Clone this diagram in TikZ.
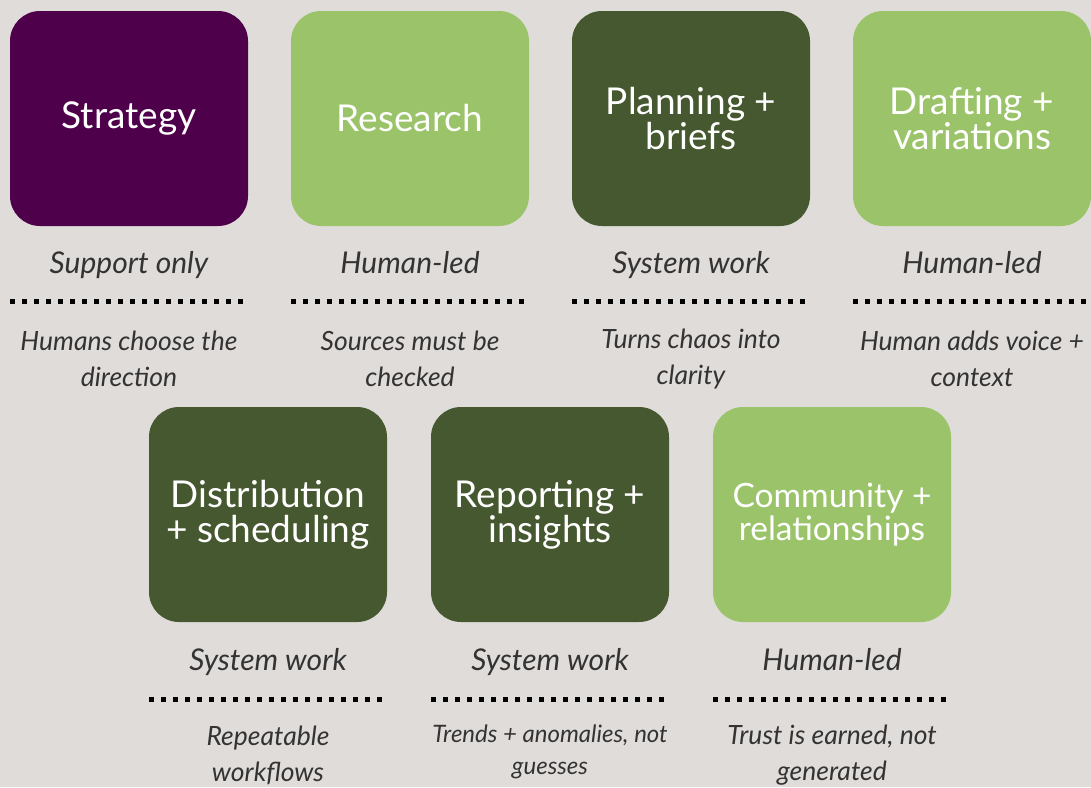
\documentclass[tikz,border=0pt]{standalone}
\usepackage{fontspec}
\setmainfont{Lato}
\usetikzlibrary{positioning}

\definecolor{bgstone}{HTML}{E0DCDA}
\definecolor{plum}{HTML}{4E004A}
\definecolor{leafgreen}{HTML}{9BC46A}
\definecolor{mossgreen}{HTML}{46582F}
\definecolor{inkgray}{HTML}{333333}

\tikzset{
  card/.style={rounded corners=30pt, minimum width=238pt, minimum height=215pt,
    text=white, align=center, font=\fontsize{37}{35}\selectfont, inner sep=0pt},
  role/.style={text=inkgray, font=\itshape\fontsize{30}{30}\selectfont, inner sep=0pt, anchor=base},
  note/.style={text=inkgray, font=\itshape\fontsize{26.5}{36}\selectfont, align=center, inner sep=0pt},
  rule/.style={line width=5pt, dash pattern=on 5pt off 7pt}
}

\begin{document}
\begin{tikzpicture}[x=1pt,y=-1pt]
\fill[bgstone] (0,0) rectangle (1091,787);
\useasboundingbox (0,0) rectangle (1091,787);
%\draw[step=50,gray,very thin] (0,0) grid (1091,787);

% top row
\node[card,fill=plum] (strategy) at (129,118.5) {Strategy};
\node[card,fill=leafgreen] (research) at (410,118.5) {Research};
\node[card,fill=mossgreen] (planning) at (691,118.5) {Planning +\\briefs};
\node[card,fill=leafgreen] (drafting) at (972,118.5) {Drafting +\\variations};

\node[role] (strategyrole) at (129,273) {Support only};
\node[role] (researchrole) at (410,273) {Human-led};
\node[role] (planningrole) at (691,273) {System work};
\node[role] (draftingrole) at (972,273) {Human-led};

\draw[rule] (10,301) -- (245,301);
\draw[rule] (291,301) -- (526,301);
\draw[rule] (572,301) -- (807,301);
\draw[rule] (853,301) -- (1088,301);

\node[note] (strategynote) at (129,359) {Humans choose the\\direction};
\node[note] (researchnote) at (410,359) {Sources must be\\checked};
\node[note] (planningnote) at (691,359) {Turns chaos into\\clarity};
\node[note] (draftingnote) at (972,359) {Human adds voice +\\context};

% bottom row
\node[card,fill=mossgreen] (distribution) at (268,514.5) {Distribution\\+ scheduling};
\node[card,fill=mossgreen] (reporting) at (550,514.5) {Reporting +\\insights};
\node[card,fill=leafgreen,font=\fontsize{33.5}{33}\selectfont] (community) at (832,514.5) {Community +\\relationships};

\node[role] (distributionrole) at (268,670) {System work};
\node[role] (reportingrole) at (550,670) {System work};
\node[role] (communityrole) at (832,670) {Human-led};

\draw[rule] (149,699) -- (384,699);
\draw[rule] (431,699) -- (666,699);
\draw[rule] (713,699) -- (948,699);

\node[note] (distributionnote) at (268,755.5) {Repeatable\\workflows};
\node[note,font=\itshape\fontsize{24}{32}\selectfont] (reportingnote) at (550,752) {Trends + anomalies, not\\guesses};
\node[note] (communitynote) at (832,755.5) {Trust is earned, not\\generated};
\end{tikzpicture}
\end{document}
